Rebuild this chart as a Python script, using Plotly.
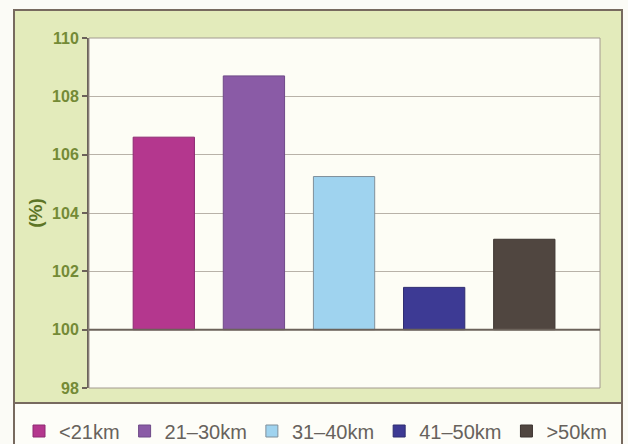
import plotly.graph_objects as go

categories = ["<21km", "21–30km", "31–40km", "41–50km", ">50km"]
values = [106.6, 108.7, 105.25, 101.45, 103.1]
colors = ["#b4378e", "#8a5ba6", "#9fd3ef", "#3d3a94", "#504640"]
outlines = ["#8e2a72", "#6f4a88", "#7f8f9a", "#2e2c70", "#3d3530"]
y_ticks = [98, 100, 102, 104, 106, 108, 110]
baseline = 100

fig = go.Figure()
for i, (c, v) in enumerate(zip(categories, values)):
    fig.add_trace(go.Bar(
        x=[i], y=[v - baseline], base=[baseline], name=c,
        marker=dict(color=colors[i], line=dict(color=outlines[i], width=1)),
        width=0.68,
    ))

L, R, T, B = 89, 28, 38, 56
W, H = 628, 444
pw, ph = W - L - R, H - T - B
def px(x):
    return (x - L) / pw
def py(y):
    return (H - B - y) / ph

FONT = "Liberation Sans, Arial, sans-serif"

shapes = [
    dict(type="rect", xref="paper", yref="paper", x0=px(14), x1=px(622), y0=py(403), y1=py(10),
         fillcolor="#e3ebbb", line=dict(width=0), layer="below"),
    dict(type="rect", xref="paper", yref="paper", x0=0, x1=1, y0=0, y1=1,
         fillcolor="#fdfdf5", line=dict(width=0), layer="below"),
    dict(type="rect", xref="paper", yref="paper", x0=px(14), x1=px(622), y0=py(446), y1=py(403),
         fillcolor="#fdfdf8", line=dict(width=0), layer="below"),
    dict(type="rect", xref="paper", yref="paper", x0=0, x1=1, y0=0, y1=1,
         line=dict(color="#a39a90", width=1), layer="above"),
    dict(type="rect", xref="paper", yref="paper", x0=px(14), x1=px(622), y0=py(450), y1=py(10),
         line=dict(color="#776a5f", width=2), layer="above"),
    dict(type="line", xref="paper", yref="paper", x0=px(14), x1=px(622), y0=py(403), y1=py(403),
         line=dict(color="#776a5f", width=2), layer="above"),
    dict(type="line", xref="paper", yref="y", x0=0, x1=1, y0=baseline, y1=baseline,
         line=dict(color="#6b625a", width=2), layer="above"),
]

fig.update_layout(
    width=W, height=H,
    margin=dict(l=L, r=R, t=T, b=B, autoexpand=False),
    paper_bgcolor="#fbfbf6",
    plot_bgcolor="rgba(0,0,0,0)",
    barmode="overlay",
    shapes=shapes,
    showlegend=True,
    legend=dict(orientation="h", x=px(19), y=py(431), xanchor="left", yanchor="middle",
                font=dict(family=FONT, size=20, color="#67625c"),
                bgcolor="rgba(0,0,0,0)", traceorder="normal"),
    xaxis=dict(range=[-0.83, 4.84], showticklabels=False, showgrid=False, zeroline=False,
               showline=False, ticks=""),
    yaxis=dict(range=[98, 110], tickvals=y_ticks, showgrid=True, gridcolor="#b8b2a8", gridwidth=1,
               zeroline=False, showline=True, linecolor="#6b625a", linewidth=2,
               ticks="outside", ticklen=5, tickcolor="#6b625a", tickwidth=2,
               tickfont=dict(family=FONT, size=16, color="#748a36", weight="bold"),
               title=dict(text="<b>(%)</b>", standoff=4,
                          font=dict(family=FONT, size=19, color="#5d7526"))),
)

fig.write_html("out.html")
